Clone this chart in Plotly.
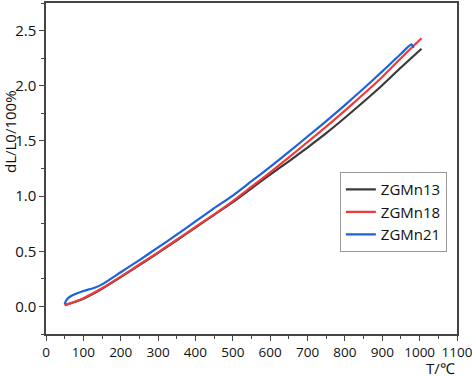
import plotly.graph_objects as go

T13 = [50, 100, 150, 200, 250, 300, 350, 400, 450, 500, 550, 600, 650, 700, 750, 800, 850, 900, 950, 1005]
V13 = [0.01, 0.07, 0.16, 0.265, 0.375, 0.485, 0.60, 0.715, 0.83, 0.945, 1.07, 1.195, 1.315, 1.44, 1.57, 1.71, 1.855, 2.005, 2.165, 2.335]

T18 = [50, 75, 100, 150, 200, 250, 300, 350, 400, 450, 500, 550, 600, 650, 700, 750, 800, 850, 900, 950, 1005]
V18 = [0.01, 0.04, 0.075, 0.165, 0.27, 0.38, 0.49, 0.605, 0.72, 0.835, 0.955, 1.085, 1.215, 1.35, 1.49, 1.63, 1.775, 1.925, 2.08, 2.25, 2.43]

T21 = [50, 55, 65, 80, 100, 130, 150, 200, 250, 300, 350, 400, 450, 500, 550, 600, 650, 700, 750, 800, 850, 900, 950, 978, 984]
V21 = [0.02, 0.06, 0.09, 0.115, 0.14, 0.17, 0.20, 0.31, 0.42, 0.535, 0.65, 0.77, 0.89, 1.005, 1.135, 1.265, 1.40, 1.54, 1.68, 1.825, 1.975, 2.13, 2.29, 2.375, 2.345]

NAMES = ["ZGMn13", "ZGMn18", "ZGMn21"]
COLORS = ["#3a3a3a", "#f03a3a", "#1a62e0"]

XTICKS = [0, 100, 200, 300, 400, 500, 600, 700, 800, 900, 1000, 1100]
YTICKS = [0.0, 0.5, 1.0, 1.5, 2.0, 2.5]

FONT = "Open Sans"

fig = go.Figure()
for t, v, n, c in zip([T13, T18, T21], [V13, V18, V21], NAMES, COLORS):
    fig.add_trace(go.Scatter(x=t, y=v, name=n, mode="lines",
                             line=dict(color=c, width=2.2, shape="spline", smoothing=0.6)))

axis_common = dict(
    showgrid=False, zeroline=False, showline=True, linecolor="#444444", linewidth=1.5,
    mirror=True, ticks="outside", ticklen=5, tickwidth=1.3, tickcolor="#444444",
    automargin=False,
)
fig.update_xaxes(range=[0, 1100.01], tickvals=XTICKS, ticktext=[str(x) for x in XTICKS],
                 ticklabeloverflow="allow",
                 tickfont=dict(family=FONT, size=13.5, color="#111111"),
                 minor=dict(dtick=50, ticks="outside", ticklen=3, tickcolor="#444444", tickwidth=1.2),
                 **axis_common)
fig.update_yaxes(range=[-0.25, 2.75], tickvals=YTICKS, ticktext=[f"{y:.1f}" for y in YTICKS],
                 tickfont=dict(family=FONT, size=15, color="#111111"),
                 minor=dict(dtick=0.25, tick0=0, ticks="outside", ticklen=3, tickcolor="#444444", tickwidth=1.2),
                 **axis_common)

fig.update_layout(
    width=472, height=377,
    margin=dict(l=46, r=15, t=3, b=43),
    paper_bgcolor="white", plot_bgcolor="white",
    font=dict(family=FONT, size=15, color="#111111"),
    showlegend=True,
    legend=dict(x=0.715, y=0.489, xanchor="left", yanchor="top",
                bordercolor="#999999", borderwidth=1, bgcolor="white",
                font=dict(family=FONT, size=15), tracegroupgap=0,
                itemwidth=30),
    annotations=[
        dict(text="dL/L0/100%", xref="paper", yref="paper", x=-(46 - 10) / 411, y=(334 - 132) / 331,
             textangle=-90, showarrow=False, font=dict(family=FONT, size=15), xanchor="center", yanchor="middle"),
        dict(text="T/℃", xref="paper", yref="paper", x=1.0, y=-(368 - 334) / 331,
             showarrow=False, font=dict(family=FONT, size=15), xanchor="right", yanchor="middle"),
    ],
)

fig.write_html("out.html", config={"displayModeBar": False},
               post_script="document.body.style.margin='0';document.body.style.overflow='hidden';")
